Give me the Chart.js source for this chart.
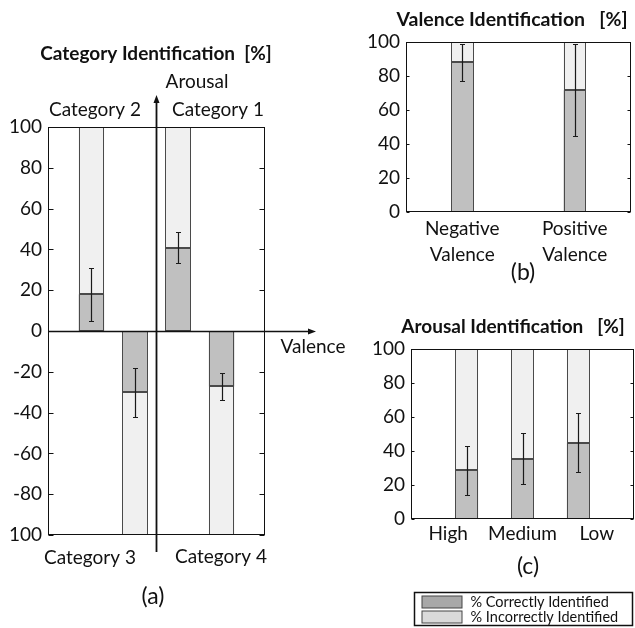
<!DOCTYPE html>
<html>
<head>
<meta charset="utf-8">
<script src="https://cdn.jsdelivr.net/npm/chart.js@4.4.1/dist/chart.umd.min.js"></script>
<style>
	html, body { margin: 0; padding: 0; background: #fff; }
	#wrap { position: relative; width: 635px; height: 628px; overflow: hidden; }
	#wrap canvas { position: absolute; }
</style>
</head>
<body>
<div id="wrap">
	<canvas id="chartA" width="360" height="628" style="left:0;top:0"></canvas>
	<canvas id="chartB" width="275" height="290" style="left:360px;top:0"></canvas>
	<canvas id="chartC" width="275" height="338" style="left:360px;top:290px"></canvas>
</div>
<script>
// ── data ─────────────────────────────────────
// (a) quadrant categories, in x order
const catLabels  = ['Category 2', 'Category 3', 'Category 1', 'Category 4'];
const catPos     = [1, 2, 3, 4];
const catSign    = [1, -1, 1, -1];          // upper / lower half
const catCorrect = [18, 30, 40.7, 27.2];
const catErr     = [13, 12, 7.6, 6.8];
const catYTicks  = ['100', '-80', '-60', '-40', '-20', '0', '20', '40', '60', '80', '100']; // bottom → top

// (b) valence
const valLabels  = [['Negative', 'Valence'], ['Positive', 'Valence']];
const valPos     = [1, 2];
const valCorrect = [88, 71.6];
const valErr     = [11, 27];

// (c) arousal
const arLabels  = ['High', 'Medium', 'Low'];
const arPos     = [1, 2, 3];
const arCorrect = [28.6, 35.5, 44.8];
const arErr     = [14.4, 15.2, 17.3];

const pctYTicks = ['0', '20', '40', '60', '80', '100'];
const seriesNames = ['% Correctly Identified', '% Incorrectly Identified'];

// ── style ────────────────────────────────────
const FONT   = 'Lato';
const C_OK   = '#c0c0c0';
const C_BAD  = '#f0f0f0';
const EDGE   = '#4a4a4a';
const INK    = '#111';

// correct part from 0, incorrect part up to 100 (or down to -100)
function barSets(pos, correct, err, sign, pct) {
	const s = sign || pos.map(() => 1);
	const common = { grouped: false, barPercentage: pct, categoryPercentage: 1, borderWidth: 0 };
	return [
		{ ...common, label: seriesNames[0], backgroundColor: C_OK,  errors: err,
		  data: pos.map((x, i) => ({ x, y: [0, s[i] * correct[i]] })) },
		{ ...common, label: seriesNames[1], backgroundColor: C_BAD,
		  data: pos.map((x, i) => ({ x, y: [s[i] * correct[i], s[i] * 100] })) },
	];
}

// ── plugins ──────────────────────────────────
// crisp outlines round every bar piece
const barEdges = {
	id: 'barEdges',
	afterDatasetsDraw(chart) {
		const ctx = chart.ctx;
		ctx.save();
		ctx.strokeStyle = EDGE;
		ctx.lineWidth = 1;
		chart.data.datasets.forEach((ds, di) => {
			chart.getDatasetMeta(di).data.forEach(bar => {
				const { x, y, base, width } = bar.getProps(['x', 'y', 'base', 'width'], true);
				const l = Math.round(x - width / 2) + 0.5, r = Math.round(x + width / 2) - 0.5;
				const t = Math.round(Math.min(y, base)) + 0.5, b = Math.round(Math.max(y, base)) - 0.5;
				ctx.strokeRect(l, t, r - l, b - t);
			});
		});
		ctx.restore();
	}
};

const frame = {
	id: 'frame',
	afterDatasetsDraw(chart, args, opts) {
		const { ctx, chartArea: a } = chart;
		const y = chart.scales.y;
		const L = Math.round(a.left) + 0.5, R = Math.round(a.right) - 0.5;
		const T = Math.round(a.top) + 0.5,  B = Math.round(a.bottom) - 0.5;
		ctx.save();
		ctx.strokeStyle = INK;
		ctx.lineWidth = 1;
		ctx.strokeRect(L, T, R - L, B - T);
		ctx.beginPath();
		y.ticks.forEach(t => {
			const py = Math.round(y.getPixelForValue(t.value)) + 0.5;
			ctx.moveTo(L, py); ctx.lineTo(L + opts.tick, py);
			ctx.moveTo(R, py); ctx.lineTo(R - opts.tick, py);
		});
		ctx.stroke();
		ctx.restore();
	}
};

const errorBars = {
	id: 'errorBars',
	afterDatasetsDraw(chart) {
		const ds = chart.data.datasets[0];
		const meta = chart.getDatasetMeta(0);
		const y = chart.scales.y;
		const ctx = chart.ctx;
		ctx.save();
		ctx.strokeStyle = '#1a1a1a';
		ctx.lineWidth = 1.2;
		meta.data.forEach((bar, i) => {
			const v = ds.data[i].y[1], e = ds.errors[i];
			const x = Math.round(bar.x) + 0.5;
			const y1 = Math.round(y.getPixelForValue(v + e)) + 0.5;
			const y2 = Math.round(y.getPixelForValue(v - e)) + 0.5;
			ctx.beginPath();
			ctx.moveTo(x, y1); ctx.lineTo(x, y2);
			ctx.moveTo(x - 2.5, y1); ctx.lineTo(x + 2.5, y1);
			ctx.moveTo(x - 2.5, y2); ctx.lineTo(x + 2.5, y2);
			ctx.stroke();
		});
		ctx.restore();
	}
};

// valence / arousal axes with arrow heads (panel a)
const quadAxes = {
	id: 'quadAxes',
	afterDatasetsDraw(chart, args, opts) {
		const { ctx, chartArea: a } = chart;
		const y0 = Math.round(chart.scales.y.getPixelForValue(0)) + 0.5;
		const x0 = Math.round(chart.scales.x.getPixelForValue(opts.cross)) + 0.5;
		const xEnd = a.right + opts.extendRight, yTop = a.top - opts.extendTop, yBot = a.bottom + opts.extendBottom;
		ctx.save();
		ctx.strokeStyle = INK;
		ctx.fillStyle = INK;
		ctx.lineWidth = 1.5;
		ctx.beginPath();
		ctx.moveTo(a.left, y0); ctx.lineTo(xEnd - 6, y0);
		ctx.stroke();
		ctx.lineWidth = 1.8;
		ctx.beginPath();
		ctx.moveTo(x0, yBot); ctx.lineTo(x0, yTop + 6);
		ctx.stroke();
		ctx.beginPath();
		ctx.moveTo(xEnd, y0); ctx.lineTo(xEnd - 8, y0 - 3); ctx.lineTo(xEnd - 8, y0 + 3); ctx.closePath();
		ctx.moveTo(x0, yTop); ctx.lineTo(x0 - 3, yTop + 8); ctx.lineTo(x0 + 3, yTop + 8); ctx.closePath();
		ctx.fill();
		ctx.restore();
	}
};

const notes = {
	id: 'notes',
	afterDraw(chart, args, opts) {
		const ctx = chart.ctx;
		ctx.save();
		ctx.fillStyle = INK;
		ctx.textBaseline = 'middle';
		opts.items.forEach(n => {
			ctx.font = `${n.bold ? 'bold ' : ''}${n.size}px ${FONT}`;
			ctx.textAlign = n.align || 'center';
			ctx.fillText(n.text, n.x, n.y);
		});
		ctx.restore();
	}
};

const boxLegend = {
	id: 'boxLegend',
	afterDraw(chart, args, o) {
		const ctx = chart.ctx;
		ctx.save();
		ctx.strokeStyle = INK;
		ctx.lineWidth = 1.5;
		ctx.strokeRect(o.x, o.y, o.w, o.h);
		ctx.font = `${o.size}px ${FONT}`;
		ctx.textAlign = 'left';
		ctx.textBaseline = 'middle';
		chart.data.datasets.forEach((ds, i) => {
			const top = o.y + 3 + i * o.row;
			ctx.fillStyle = o.swatch[i];
			ctx.fillRect(o.x + 7.5, top + 0.5, 40, 12);
			ctx.strokeStyle = '#444';
			ctx.lineWidth = 1;
			ctx.strokeRect(o.x + 7.5, top + 0.5, 40, 12);
			ctx.fillStyle = INK;
			ctx.fillText(ds.label, o.x + 56, top + 7);
		});
		ctx.restore();
	}
};

function yAxis(min, max, labels, width) {
	return {
		min, max,
		ticks: { stepSize: 20, padding: 6, color: INK, font: { family: FONT, size: 19 }, callback: (v, i) => labels[i] },
		grid: { display: false, drawTicks: false },
		border: { display: false },
		afterFit: s => { s.width = width; }
	};
}

function xHidden(min, max, pos) {
	return { type: 'linear', min, max, offset: false, display: false, afterBuildTicks: s => { s.ticks = pos.map(v => ({ value: v })); } };
}

function xLabels(labels, pad, height) {
	return {
		type: 'category', labels, offset: true, position: 'bottom',
		ticks: { padding: pad, color: INK, font: { family: FONT, size: 19, lineHeight: 1.35 }, maxRotation: 0, autoSkip: false },
		grid: { display: false, drawTicks: false },
		border: { display: false },
		afterFit: s => { s.height = height; }
	};
}

const base = {
	responsive: false,
	animation: false,
	devicePixelRatio: 1,
	events: [],
};

// ── (a) category identification ─────────────
new Chart(document.getElementById('chartA'), {
	type: 'bar',
	data: { datasets: barSets(catPos, catCorrect, catErr, catSign, 0.59) },
	options: {
		...base,
		layout: { padding: { left: 0, top: 127, right: 95, bottom: 93 } },
		scales: {
			x: xHidden(0, 5, catPos),
			y: yAxis(-100, 100, catYTicks, 48),
		},
		plugins: {
			legend: { display: false },
			tooltip: { enabled: false },
			frame: { tick: 5 },
			quadAxes: { cross: 2.48, extendRight: 51, extendTop: 32, extendBottom: 17 },
			notes: { items: [
				{ text: 'Category Identification  [%]', x: 156, y: 54, size: 19, bold: true },
				{ text: 'Arousal', x: 197, y: 82, size: 19 },
				{ text: catLabels[0], x: 95,  y: 110, size: 19 },
				{ text: catLabels[2], x: 218, y: 110, size: 19 },
				{ text: 'Valence', x: 313, y: 347, size: 19 },
				{ text: catLabels[1], x: 90,  y: 558, size: 19 },
				{ text: catLabels[3], x: 221, y: 557, size: 19 },
				{ text: '(a)', x: 153, y: 597, size: 23 },
			] },
		}
	},
	plugins: [barEdges, errorBars, quadAxes, frame, notes]
});

// ── (b) valence identification ──────────────
new Chart(document.getElementById('chartB'), {
	type: 'bar',
	data: { datasets: barSets(valPos, valCorrect, valErr, null, 0.2) },
	options: {
		...base,
		layout: { padding: { left: 0, top: 42, right: 4, bottom: 18 } },
		scales: {
			x: xHidden(0.5, 2.5, valPos),
			xl: xLabels(valLabels, 4, 60),
			y: yAxis(0, 100, pctYTicks, 46),
		},
		plugins: {
			legend: { display: false },
			tooltip: { enabled: false },
			frame: { tick: 3 },
			notes: { items: [
				{ text: 'Valence Identification   [%]', x: 152, y: 20, size: 19.5, bold: true },
				{ text: '(b)', x: 163, y: 273, size: 23 },
			] },
		}
	},
	plugins: [barEdges, errorBars, frame, notes]
});

// ── (c) arousal identification ──────────────
new Chart(document.getElementById('chartC'), {
	type: 'bar',
	data: { datasets: barSets(arPos, arCorrect, arErr, null, 0.41) },
	options: {
		...base,
		layout: { padding: { left: 0, top: 59, right: 1, bottom: 69 } },
		scales: {
			x: xHidden(0, 4, arPos),
			xl: xLabels(arLabels, 2, 40),
			y: yAxis(0, 100, pctYTicks, 51),
		},
		plugins: {
			legend: { display: false },
			tooltip: { enabled: false },
			frame: { tick: 3 },
			notes: { items: [
				{ text: 'Arousal Identification   [%]', x: 153, y: 37, size: 19, bold: true },
				{ text: '(c)', x: 168, y: 277, size: 23 },
			] },
			boxLegend: { x: 54.5, y: 302.5, w: 218, h: 33, row: 15, size: 14.5, swatch: ['#a8a8a8', '#dadada'] },
		}
	},
	plugins: [barEdges, errorBars, frame, notes, boxLegend]
});
</script>
</body>
</html>
